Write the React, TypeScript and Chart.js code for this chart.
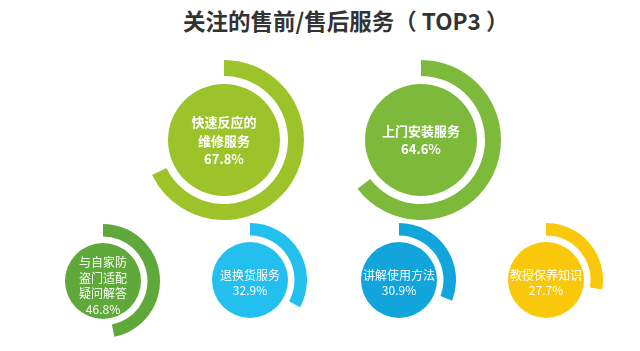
import React, { useEffect, useRef } from 'react';
import { Chart, registerables } from 'chart.js';

Chart.register(...registerables);

// ---- data ----
const chartTitle = '关注的售前/售后服务（ TOP3 ）';
const categories = ['快速反应的维修服务', '上门安装服务', '与自家防盗门适配疑问解答', '退换货服务', '讲解使用方法', '教授保养知识'];
const labelLines = [
  ['快速反应的', '维修服务'],
  ['上门安装服务'],
  ['与自家防', '盗门适配', '疑问解答'],
  ['退换货服务'],
  ['讲解使用方法'],
  ['教授保养知识'],
];
const values = [67.8, 64.6, 46.8, 32.9, 30.9, 27.7];
const colors = ['#9CC42A', '#7DBA3C', '#5FA83A', '#22BFEF', '#12A5DB', '#F9C80A'];

// ---- layout (positions / sizes only) ----
const FONT = '"Noto Sans CJK SC", "Noto Sans", sans-serif';
const layout = [
  { cx: 224, cy: 140, r: 80, ring: 16, gap: 8, weight: 'bold', size: 13, lh: 18.5, dy: 1 },
  { cx: 421, cy: 140, r: 80, ring: 16, gap: 8, weight: 'bold', size: 13, lh: 18.5, dy: 0 },
  { cx: 103, cy: 281, r: 57, ring: 12.5, gap: 6.5, weight: 'normal', size: 12, lh: 15.5, dy: 5 },
  { cx: 250, cy: 280, r: 57, ring: 12.5, gap: 6.5, weight: 'normal', size: 12, lh: 15.5, dy: 3 },
  { cx: 399, cy: 280, r: 57, ring: 12.5, gap: 6.5, weight: 'normal', size: 12, lh: 15.5, dy: 3 },
  { cx: 546, cy: 280, r: 57, ring: 12.5, gap: 6.5, weight: 'normal', size: 12, lh: 15.5, dy: 3 },
];

const centerTextPlugin = {
  id: 'centerText',
  afterDraw(chart: any) {
    const idx: number = chart.options.plugins.centerText.index;
    const L = layout[idx];
    const arc = chart.getDatasetMeta(2).data[0];
    if (!arc) return;
    const { ctx } = chart;
    const lines = [...labelLines[idx], values[idx].toFixed(1) + '%'];
    ctx.save();
    ctx.fillStyle = '#ffffff';
    ctx.textAlign = 'center';
    ctx.textBaseline = 'middle';
    ctx.font = `${L.weight} ${L.size}px ${FONT}`;
    const start = arc.y + L.dy - ((lines.length - 1) * L.lh) / 2;
    lines.forEach((t, i) => ctx.fillText(t, arc.x, start + i * L.lh));
    ctx.restore();
  },
};

function Bubble({ index }: { index: number }) {
  const ref = useRef<HTMLCanvasElement | null>(null);
  const L = layout[index];
  useEffect(() => {
    if (!ref.current) return;
    const v = values[index];
    const c = colors[index];
    const chart = new Chart(ref.current, {
      type: 'doughnut',
      data: {
        labels: [categories[index], ''],
        datasets: [
          { data: [v, 100 - v], backgroundColor: [c, 'rgba(0,0,0,0)'], weight: L.ring, borderWidth: 0, hoverOffset: 0, offset: 0 } as any,
          { data: [100], backgroundColor: ['rgba(0,0,0,0)'], weight: L.gap, borderWidth: 0, hoverOffset: 0, offset: 0 } as any,
          { data: [100], backgroundColor: [c], weight: L.r - L.ring - L.gap, borderWidth: 0, hoverOffset: 0, offset: 0 } as any,
        ],
      },
      options: {
        responsive: false,
        animation: false,
        cutout: 0,
        radius: '100%',
        layout: { padding: 0 },
        events: [],
        plugins: {
          legend: { display: false },
          tooltip: { enabled: false },
          centerText: { index },
        } as any,
      },
      plugins: [centerTextPlugin],
    });
    return () => chart.destroy();
  }, [index]);
  return (
    <canvas
      ref={ref}
      width={2 * L.r}
      height={2 * L.r}
      style={{ position: 'absolute', left: L.cx - L.r, top: L.cy - L.r, width: 2 * L.r, height: 2 * L.r }}
    />
  );
}

export default function App() {
  return (
    <div style={{ position: 'absolute', left: 0, top: 0, width: 640, height: 351, background: '#ffffff', overflow: 'hidden' }}>
      <div
        style={{
          position: 'absolute',
          left: 183,
          top: 7,
          fontFamily: FONT,
          fontWeight: 'bold',
          fontSize: 22.5,
          lineHeight: '27px',
          color: '#333333',
          whiteSpace: 'pre',
        }}
      >
        {chartTitle}
      </div>
      {values.map((_, i) => (
        <Bubble key={i} index={i} />
      ))}
    </div>
  );
}
